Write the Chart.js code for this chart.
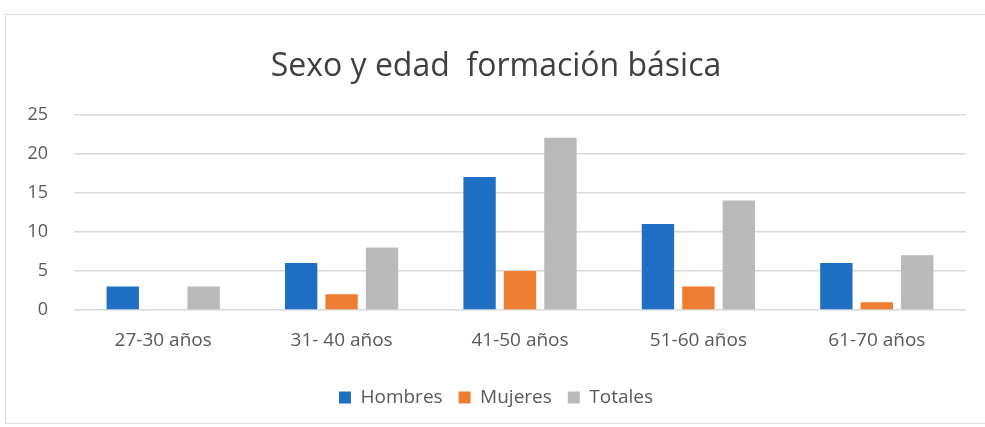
<!DOCTYPE html>
<html>
<head>
<meta charset="utf-8">
<script src="https://cdn.jsdelivr.net/npm/chart.js@4"></script>
<style>
  html, body { margin: 0; padding: 0; background: #fff; }
  #wrap { position: relative; width: 985px; height: 427px; }
  #frame { position: absolute; left: 5px; top: 14px; width: 985px; height: 410px; border: 1px solid #dcdcdc; box-sizing: border-box; }
  canvas { position: absolute; left: 0; top: 0; }
</style>
</head>
<body>
<div id="wrap">
  <div id="frame"></div>
  <canvas id="c" width="985" height="427"></canvas>
</div>
<script>
const categories = ["27-30 años", "31- 40 años", "41-50 años", "51-60 años", "61-70 años"];
const hombres = [3, 6, 17, 11, 6];
const mujeres = [0, 2, 5, 3, 1];
const totales = [3, 8, 22, 14, 7];
const yTicks = [0, 5, 10, 15, 20, 25];

const FONT = "'Open Sans', Lato, sans-serif";

new Chart(document.getElementById('c'), {
  type: 'bar',
  data: {
    labels: categories,
    datasets: [
      { label: 'Hombres', data: hombres, backgroundColor: '#1F6FC4' },
      { label: 'Mujeres', data: mujeres, backgroundColor: '#ED7D31' },
      { label: 'Totales', data: totales, backgroundColor: '#B9B9B9' }
    ]
  },
  options: {
    responsive: false,
    animation: false,
    devicePixelRatio: 1,
    layout: { padding: { top: 12, left: 26, right: 19, bottom: 10 } },
    datasets: { bar: { categoryPercentage: 0.68, barPercentage: 0.8 } },
    plugins: {
      title: {
        display: true,
        text: 'Sexo y edad  formación básica',
        color: '#404040',
        font: { family: FONT, size: 32, weight: 'normal' },
        padding: { top: 36, bottom: 28 }
      },
      legend: {
        position: 'bottom',
        labels: {
          color: '#595959',
          font: { family: FONT, size: 19 },
          boxWidth: 12, boxHeight: 12,
          padding: 16
        }
      },
      tooltip: { enabled: false }
    },
    scales: {
      x: {
        grid: { display: false },
        border: { display: false },
        afterFit: (axis) => { axis.paddingLeft = 0; axis.paddingRight = 0; axis.height = 62; },
        ticks: { color: '#595959', font: { family: FONT, size: 19 }, padding: 11 }
      },
      y: {
        min: 0, max: 25,
        afterBuildTicks: (axis) => { axis.ticks = yTicks.map(v => ({ value: v })); },
        afterFit: (axis) => { axis.width = 48; },
        grid: { color: '#d9d9d9', lineWidth: 1.5, drawTicks: false },
        border: { display: false },
        ticks: { color: '#595959', font: { family: FONT, size: 18 }, padding: 26 }
      }
    }
  }
});
</script>
</body>
</html>
